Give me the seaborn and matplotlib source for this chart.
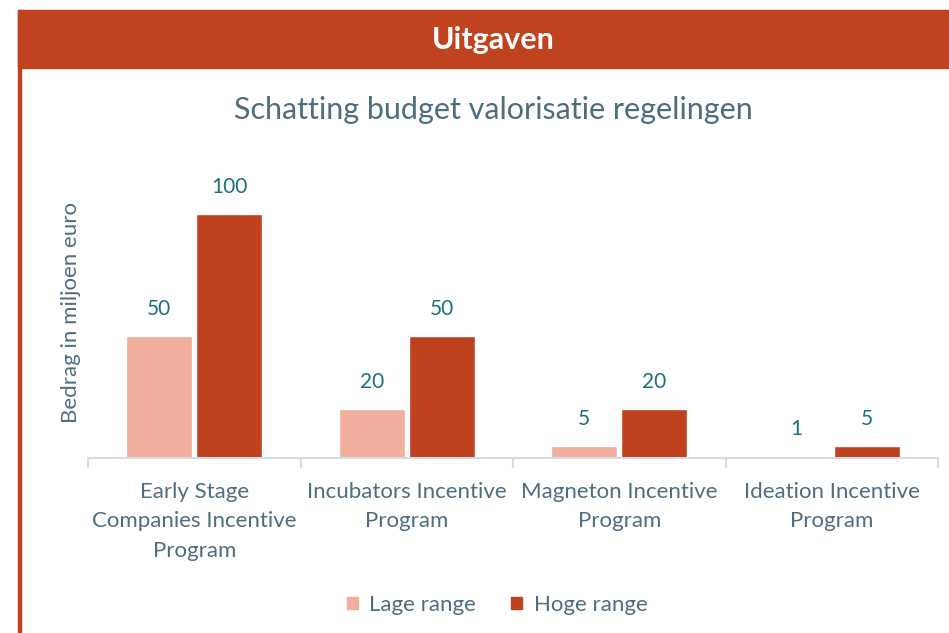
import pandas as pd
import matplotlib.pyplot as plt
import seaborn as sns
from matplotlib.patches import Rectangle

# Data
categories = ['Early Stage\nCompanies Incentive\nProgram', 'Incubators Incentive\nProgram',
              'Magneton Incentive\nProgram', 'Ideation Incentive\nProgram']
lage_range = [50, 20, 5, 1]
hoge_range = [100, 50, 20, 5]
series_names = ['Lage range', 'Hoge range']

df = pd.DataFrame({
    'categorie': categories * 2,
    'bedrag': lage_range + hoge_range,
    'range': [series_names[0]] * len(categories) + [series_names[1]] * len(categories),
})

header_col = '#C0421F'
light_col = '#F0AE9C'
dark_col = '#BF411E'
label_col = '#1D6F7C'
text_col = '#4E6E7F'
axis_col = '#D3DDE3'

sns.set_theme(style='white')
plt.rcParams['font.family'] = ['Lato', 'DejaVu Sans']

fig = plt.figure(figsize=(9.49, 6.33), dpi=100)
W, H = 949, 633

# Header band and left border
fig.patches.append(Rectangle((18 / W, 1 - 68 / H), 1, 58 / H, transform=fig.transFigure,
                             color=header_col, zorder=0))
fig.patches.append(Rectangle((18 / W, 0), 3 / W, 1 - 10 / H, transform=fig.transFigure,
                             color=header_col, zorder=0))
fig.text(493 / W, 1 - 40 / H, 'Uitgaven', color='white', fontsize=22, fontweight='bold',
         ha='center', va='center')
fig.text(493 / W, 1 - 110 / H, 'Schatting budget valorisatie regelingen', color=text_col,
         fontsize=22, ha='center', va='center')

ax = fig.add_axes([88 / W, 1 - 458 / H, 850 / W, 308 / H])
sns.barplot(data=df, x='categorie', y='bedrag', hue='range', hue_order=series_names,
            palette=[light_col, dark_col], width=0.66, gap=0.06, saturation=1,
            legend=False, ax=ax)

for cont in ax.containers:
    ax.bar_label(cont, fmt='%g', padding=12, color=label_col, fontsize=15)

ax.set_ylim(0, 126)
ax.set_xlim(-0.5, 3.5)
ax.set_yticks([])
ax.set_xlabel('')
ax.set_ylabel('Bedrag in miljoen euro', color=text_col, fontsize=16, labelpad=5, y=0.474)
for s in ['top', 'right', 'left']:
    ax.spines[s].set_visible(False)
ax.spines['bottom'].set_color(axis_col)
ax.spines['bottom'].set_linewidth(1.5)
ax.set_xticks(range(len(categories)))
ax.set_xticklabels(categories, linespacing=1.6)
ax.set_xticks([-0.5, 0.5, 1.5, 2.5, 3.5], minor=True)
ax.tick_params(axis='x', which='minor', bottom=True, length=7, width=1.5, color=axis_col,
               direction='out')
ax.tick_params(axis='x', which='major', length=0, pad=17, labelsize=16, labelcolor=text_col)

handles = [Rectangle((0, 0), 1, 1, color=c) for c in [light_col, dark_col]]
leg = fig.legend(handles, series_names, loc='center', bbox_to_anchor=(497 / W, 1 - 605 / H),
                 ncol=2, frameon=False, fontsize=16, handlelength=0.5, handleheight=0.5,
                 columnspacing=1.6, handletextpad=0.5)
for t in leg.get_texts():
    t.set_color(text_col)

fig.savefig('out.png', dpi=100)
